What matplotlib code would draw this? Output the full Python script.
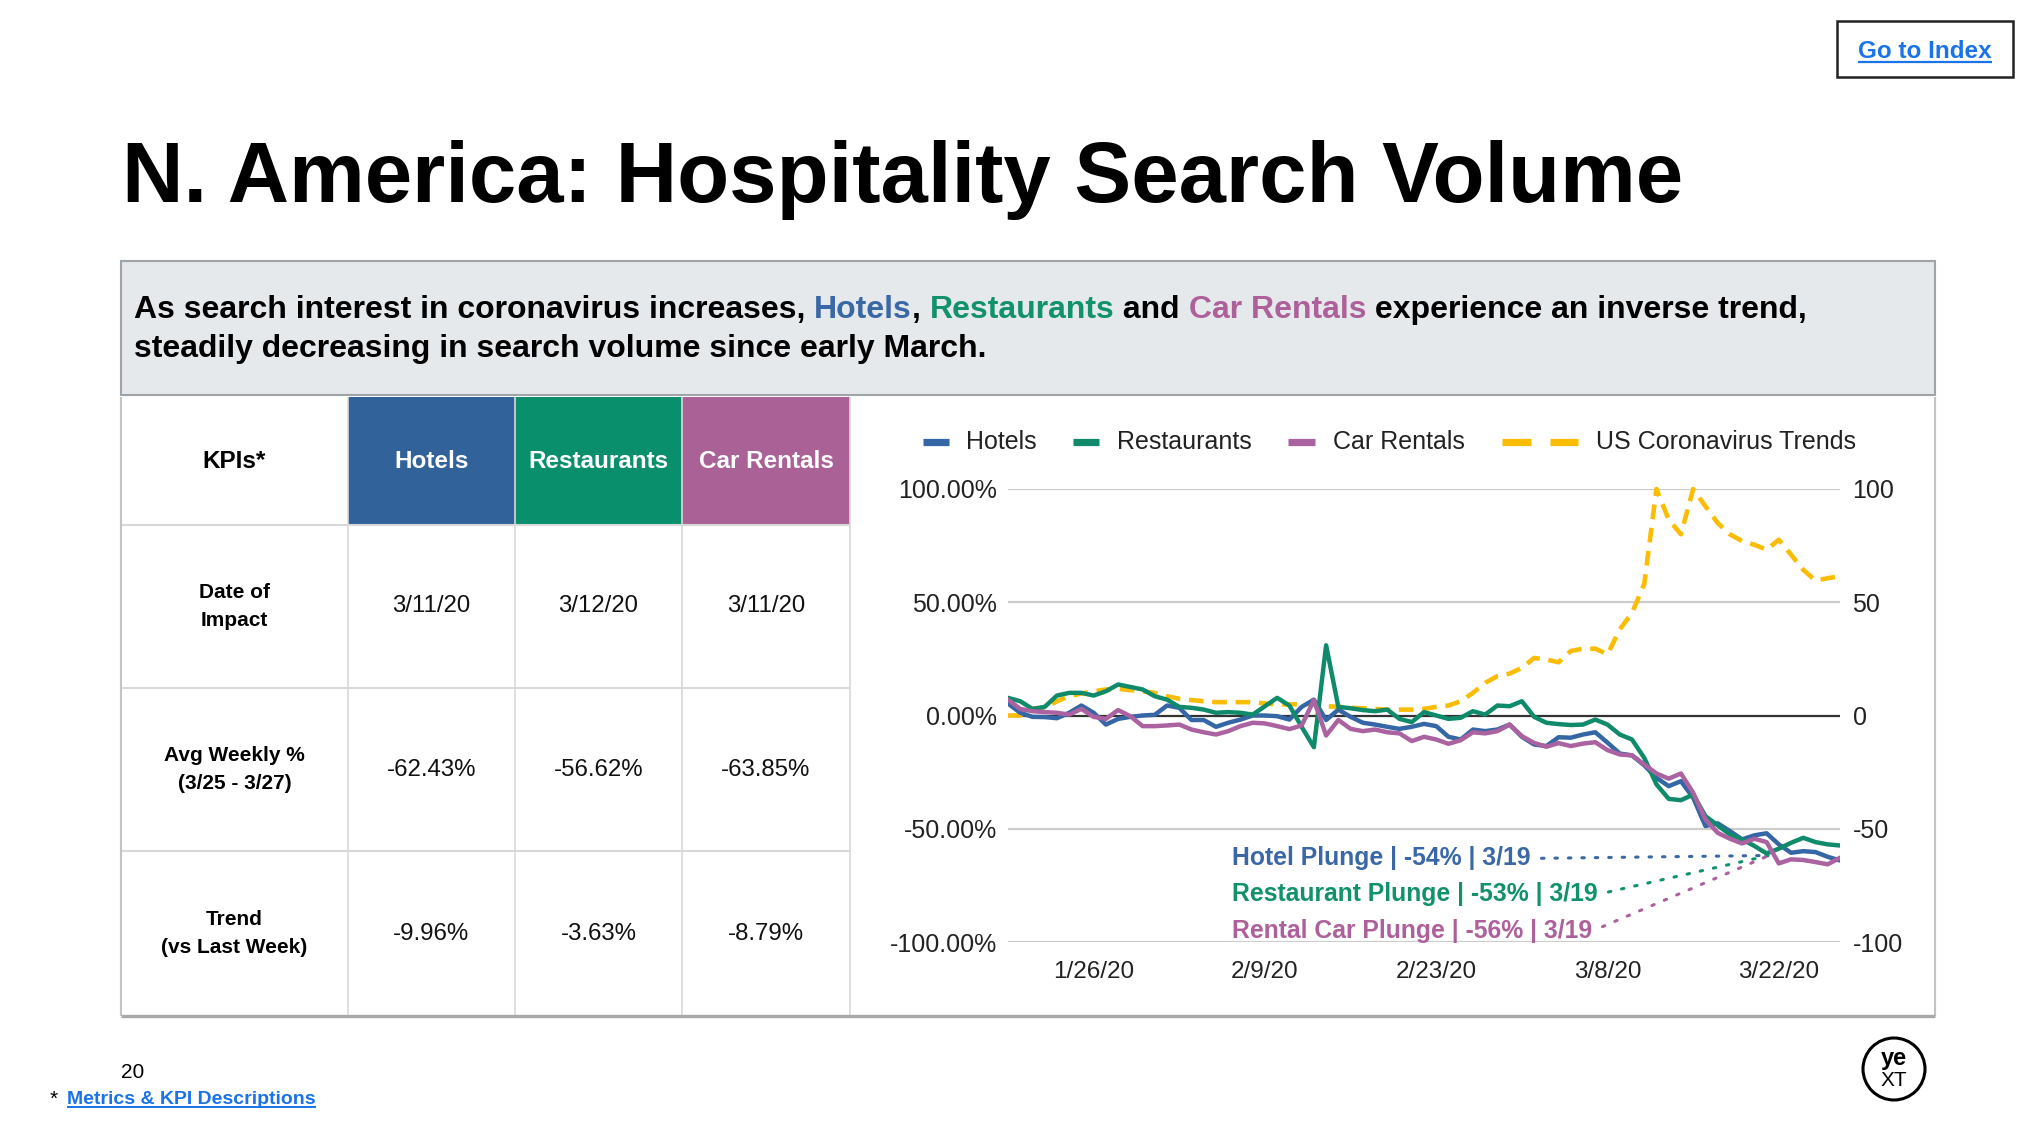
import numpy as np
import pandas as pd
import matplotlib
matplotlib.use("Agg")
import matplotlib.pyplot as plt
from matplotlib.patches import Rectangle, Ellipse
from matplotlib.lines import Line2D

plt.rcParams['font.family'] = ['Liberation Sans', 'DejaVu Sans']

W, H = 2033, 1141

# ---- data -------------------------------------------------------------
dates = pd.date_range("2020-01-19", "2020-03-27", freq="D")

hotels = [5.3, 1.2, -0.6, -0.7, -1.2, 1.2, 4.4, 1.2, -4.0, -1.5,
          -0.6, 0.0, 0.3, 4.4, 3.4, -2.0, -2.0, -5.0, -3.2, -1.8,
          0.0, 0.0, -0.3, -1.8, 3.8, 7.0, -2.0, 2.6, -0.6, -3.2,
          -4.0, -5.0, -5.9, -5.0, -3.7, -4.7, -9.4, -10.6, -6.2, -6.9,
          -6.2, -4.0, -9.4, -12.8, -13.5, -9.6, -9.8, -8.4, -7.4, -12.0,
          -16.8, -17.6, -22.0, -27.5, -31.2, -29.0, -36.3, -48.8, -47.6, -51.0,
          -54.7, -52.9, -52.0, -56.9, -60.6, -59.9, -60.3, -62.4, -64.0]

restaurants = [7.8, 6.3, 2.9, 3.8, 8.8, 10.0, 10.0, 8.8, 10.7, 13.7,
               12.6, 11.5, 8.5, 7.0, 3.8, 3.4, 2.6, 1.2, 1.5, 1.2,
               0.4, 4.1, 7.8, 4.4, -5.0, -14.0, 31.0, 3.8, 3.2, 2.4,
               1.9, 2.6, -1.5, -2.9, 1.5, 0.0, -1.5, -1.0, 1.9, 0.4,
               4.4, 4.1, 6.3, -0.6, -3.2, -3.8, -4.2, -4.0, -1.8, -4.0,
               -8.4, -10.6, -18.7, -30.4, -36.8, -37.4, -34.9, -44.4, -48.5, -52.5,
               -54.7, -57.6, -60.9, -58.8, -56.2, -54.0, -55.9, -56.9, -57.4]

car_rentals = [7.0, 2.9, 1.9, 1.5, 1.2, 0.4, 2.9, -0.6, -1.5, 2.4,
               -0.3, -4.7, -4.7, -4.4, -4.0, -6.2, -7.4, -8.4, -6.9, -4.7,
               -3.2, -3.5, -4.7, -6.0, -4.4, 6.8, -8.8, -2.0, -5.9, -6.9,
               -6.2, -7.4, -7.9, -11.3, -9.4, -10.6, -12.5, -10.9, -7.4, -7.9,
               -6.9, -4.0, -9.1, -12.1, -13.8, -12.2, -13.5, -12.4, -11.8, -15.3,
               -17.2, -17.6, -21.6, -25.6, -27.9, -25.6, -34.1, -45.9, -51.8, -54.4,
               -56.5, -54.4, -55.9, -65.3, -63.5, -63.8, -64.7, -65.7, -62.8]

us_corona = [0.0, 0.0, 3.0, 3.4, 6.3, 8.5, 9.7, 10.7, 11.5, 11.8,
             11.2, 10.7, 10.0, 8.5, 7.4, 6.8, 6.3, 5.9, 5.9, 5.9,
             5.9, 5.3, 4.9, 4.9, 5.0, 5.0, 4.1, 3.8, 3.4, 3.2,
             2.9, 2.6, 2.6, 2.6, 2.9, 3.8, 4.4, 6.3, 10.0, 14.4,
             17.4, 18.5, 21.0, 25.4, 24.7, 23.5, 28.5, 29.5, 29.5, 27.0,
             38.0, 45.3, 58.0, 100.0, 86.5, 80.0, 100.0, 92.4, 85.0, 80.0,
             77.0, 75.4, 73.2, 77.6, 71.0, 64.3, 59.6, 60.6, 61.5]

series_names = ["Hotels", "Restaurants", "Car Rentals", "US Coronavirus Trends"]

x_tick_dates = pd.to_datetime(["2020-01-26", "2020-02-09", "2020-02-23", "2020-03-08", "2020-03-22"])
x_tick_labels = ["1/26/20", "2/9/20", "2/23/20", "3/8/20", "3/22/20"]
y_ticks = [-100, -50, 0, 50, 100]
y_left_labels = ["-100.00%", "-50.00%", "0.00%", "50.00%", "100.00%"]
y_right_labels = ["-100", "-50", "0", "50", "100"]

kpi_header = "KPIs*"
kpi_rows = ["Date of\nImpact", "Avg Weekly %\n(3/25 - 3/27)", "Trend\n(vs Last Week)"]
kpi_values = [["3/11/20", "3/12/20", "3/11/20"],
              ["-62.43%", "-56.62%", "-63.85%"],
              ["-9.96%", "-3.63%", "-8.79%"]]

plunge_labels = ["Hotel Plunge | -54% | 3/19",
                 "Restaurant Plunge | -53% | 3/19",
                 "Rental Car Plunge | -56% | 3/19"]

# ---- styles -----------------------------------------------------------
BLUE, GREEN, PURPLE, YELLOW = "#3566a5", "#0f8b6b", "#ab62a0", "#fbbc04"
HEAD_BG = ["#31629a", "#0a8f6d", "#a96196"]
TXT_BLUE, TXT_GREEN, TXT_PURPLE = "#3a68a6", "#11916c", "#ad609a"
LINK = "#1a73e8"
GRID = "#d9d9d9"
RIGHT = 1935  # right edge of the banner / table box (px)


def fx(x):
    return x / W


def fy(y):
    return 1 - y / H


fig = plt.figure(figsize=(W / 100, H / 100), dpi=100)
renderer = fig.canvas.get_renderer()


def width_px(s, **kw):
    t1 = fig.text(0, 0, s + "|", **kw)
    t2 = fig.text(0, 0, "|", **kw)
    w = t1.get_window_extent(renderer).width - t2.get_window_extent(renderer).width
    t1.remove()
    t2.remove()
    return w


def hline(x0, x1, y, color, lw):
    fig.add_artist(Line2D([fx(x0), fx(x1)], [fy(y), fy(y)], color=color, lw=lw,
                          transform=fig.transFigure, solid_capstyle="butt"))


def vline(x, y0, y1, color, lw):
    fig.add_artist(Line2D([fx(x), fx(x)], [fy(y0), fy(y1)], color=color, lw=lw,
                          transform=fig.transFigure, solid_capstyle="butt"))


# ---- title and link ---------------------------------------------------
fig.text(fx(122), fy(202), "N. America: Hospitality Search Volume", fontsize=61.3,
         fontweight="bold", color="black", ha="left", va="baseline")

fig.add_artist(Rectangle((fx(1837), fy(77)), (2013 - 1837) / W, 56 / H, transform=fig.transFigure,
                         facecolor="white", edgecolor="#222222", lw=1.8))
link_kw = dict(fontsize=17.5, fontweight="bold", color=LINK)
fig.text(fx(1925), fy(58), "Go to Index", ha="center", va="baseline", **link_kw)
lw_ = width_px("Go to Index", **link_kw)
hline(1925 - lw_ / 2, 1925 + lw_ / 2, 62, LINK, 1.6)

# ---- banner -----------------------------------------------------------
fig.add_artist(Rectangle((fx(121), fy(395)), (RIGHT - 121) / W, (395 - 261) / H, transform=fig.transFigure,
                         facecolor="#e6e9ec", edgecolor="#9fa4a9", lw=1.5))
banner_kw = dict(fontsize=23, fontweight="bold")
line1 = [("As search interest in coronavirus increases, ", "black"), ("Hotels", TXT_BLUE), (", ", "black"),
         ("Restaurants", TXT_GREEN), (" and ", "black"), ("Car Rentals", TXT_PURPLE),
         (" experience an inverse trend,", "black")]
prefix = ""
for piece, col in line1:
    x = 134 + (width_px(prefix, **banner_kw) if prefix else 0)
    fig.text(fx(x), fy(318), piece, color=col, ha="left", va="baseline", **banner_kw)
    prefix += piece
fig.text(fx(134), fy(357), "steadily decreasing in search volume since early March.", color="black",
         ha="left", va="baseline", **banner_kw)

# ---- KPI table --------------------------------------------------------
col_x = [121, 348, 515, 682, 850]
row_y = [397, 525, 688, 851, 1016]
for i, bg in enumerate(HEAD_BG):
    fig.add_artist(Rectangle((fx(col_x[i + 1]), fy(row_y[1])), (col_x[i + 2] - col_x[i + 1]) / W,
                             (row_y[1] - row_y[0]) / H, transform=fig.transFigure,
                             facecolor=bg, edgecolor="none"))
for y in row_y[1:-1]:
    hline(col_x[0], col_x[-1], y, GRID, 1.5)
for x in col_x[1:]:
    vline(x, row_y[0], row_y[-1], GRID, 1.2)
vline(col_x[0], row_y[0], row_y[-1], "#c4c4c4", 1.5)
vline(RIGHT, row_y[0], row_y[-1], "#c4c4c4", 1.5)
hline(col_x[0], RIGHT, row_y[-1], "#a9a9a9", 2.4)

fig.text(fx((col_x[0] + col_x[1]) / 2), fy((row_y[0] + row_y[1]) / 2), kpi_header, fontsize=17.5,
         fontweight="bold", ha="center", va="center")
for i, name in enumerate(series_names[:3]):
    fig.text(fx((col_x[i + 1] + col_x[i + 2]) / 2), fy((row_y[0] + row_y[1]) / 2), name,
             fontsize=17.5, fontweight="bold", color="white", ha="center", va="center")
for r, label in enumerate(kpi_rows):
    yc = fy((row_y[r + 1] + row_y[r + 2]) / 2)
    fig.text(fx((col_x[0] + col_x[1]) / 2), yc, label, fontsize=15, fontweight="bold",
             ha="center", va="center", linespacing=1.55)
    for c, val in enumerate(kpi_values[r]):
        fig.text(fx((col_x[c + 1] + col_x[c + 2]) / 2), yc, val, fontsize=17.3,
                 ha="center", va="center", color="#111111")

# ---- legend -----------------------------------------------------------
leg_y = 442
for (x0, x1), col, tx, name in [((923, 949), BLUE, 966, series_names[0]),
                                ((1073, 1099), GREEN, 1117, series_names[1]),
                                ((1288, 1315), PURPLE, 1333, series_names[2])]:
    fig.add_artist(Line2D([fx(x0), fx(x1)], [fy(leg_y), fy(leg_y)], color=col, lw=5.2,
                          solid_capstyle="butt", transform=fig.transFigure))
    fig.text(fx(tx), fy(leg_y), name, fontsize=18, ha="left", va="center", color="#222222")
for x0, x1 in [(1502, 1531), (1550, 1578)]:
    fig.add_artist(Line2D([fx(x0), fx(x1)], [fy(leg_y), fy(leg_y)], color=YELLOW, lw=5.2,
                          solid_capstyle="butt", transform=fig.transFigure))
fig.text(fx(1596), fy(leg_y), series_names[3], fontsize=18, ha="left", va="center", color="#222222")

# ---- chart ------------------------------------------------------------
ax = fig.add_axes([fx(1008), fy(942), (1840 - 1008) / W, (942 - 489) / H])
ax2 = ax.twinx()
ax.set_zorder(ax2.get_zorder() + 1)
ax.patch.set_visible(False)

for a in (ax, ax2):
    a.set_xlim(dates[0], dates[-1])
    a.set_ylim(-100, 100)
    a.set_yticks(y_ticks)
    for s in a.spines.values():
        s.set_visible(False)
    a.tick_params(length=0, labelsize=18, labelcolor="#222222")

ax.set_yticklabels(y_left_labels)
ax2.set_yticklabels(y_right_labels)
ax.tick_params(axis="y", pad=8)
ax2.tick_params(axis="y", pad=9)
ax.set_xticks(x_tick_dates)
ax.set_xticklabels(x_tick_labels, fontsize=17.5)
ax.tick_params(axis="x", pad=14)

for v in y_ticks:
    if v == 0:
        ax2.axhline(v, color="#333333", lw=1.6, zorder=1)
    else:
        ax2.axhline(v, color="#cccccc", lw=1.6, zorder=1)

ax2.plot(dates, us_corona, color=YELLOW, lw=3.3, dashes=(3.2, 1.9), clip_on=False, zorder=3,
         solid_joinstyle="round", dash_joinstyle="round")
for vals, col in [(hotels, BLUE), (restaurants, GREEN), (car_rentals, PURPLE)]:
    ax.plot(dates, vals, color=col, lw=3.2, solid_joinstyle="round", solid_capstyle="round", zorder=3)

# plunge annotations
conv = (pd.Timestamp("2020-01-19") + pd.Timedelta(days=62.2), -61.8)
text_x = pd.Timestamp("2020-01-19") + pd.Timedelta(days=18.3)
for label, yv, col in zip(plunge_labels, [-63.1, -79.0, -95.2], [TXT_BLUE, TXT_GREEN, TXT_PURPLE]):
    ax.annotate(label, xy=conv, xytext=(text_x, yv), textcoords="data", ha="left", va="center",
                fontsize=17.8, fontweight="bold", color=col,
                arrowprops=dict(arrowstyle="-", color=col, linestyle=(0, (0.8, 3.6)), lw=2.2,
                                shrinkA=6, shrinkB=0, relpos=(1, 0.5)))

# ---- footer -----------------------------------------------------------
fig.text(fx(121), fy(1072), "20", fontsize=15, ha="left", va="center")
fig.text(fx(50), fy(1099), "*", fontsize=15, ha="left", va="center")
foot_kw = dict(fontsize=14, fontweight="bold", color=LINK)
fig.text(fx(67), fy(1104), "Metrics & KPI Descriptions", ha="left", va="baseline", **foot_kw)
fw = width_px("Metrics & KPI Descriptions", **foot_kw)
hline(67, 67 + fw, 1107, LINK, 1.4)

fig.add_artist(Ellipse((fx(1894), fy(1069)), 62 / W, 62 / H, transform=fig.transFigure,
                       facecolor="white", edgecolor="black", lw=2.2))
fig.text(fx(1894), fy(1058), "ye", fontsize=17, ha="center", va="center", fontweight="bold")
fig.text(fx(1894), fy(1080), "XT", fontsize=15, ha="center", va="center")

fig.savefig("out.png", dpi=100)
